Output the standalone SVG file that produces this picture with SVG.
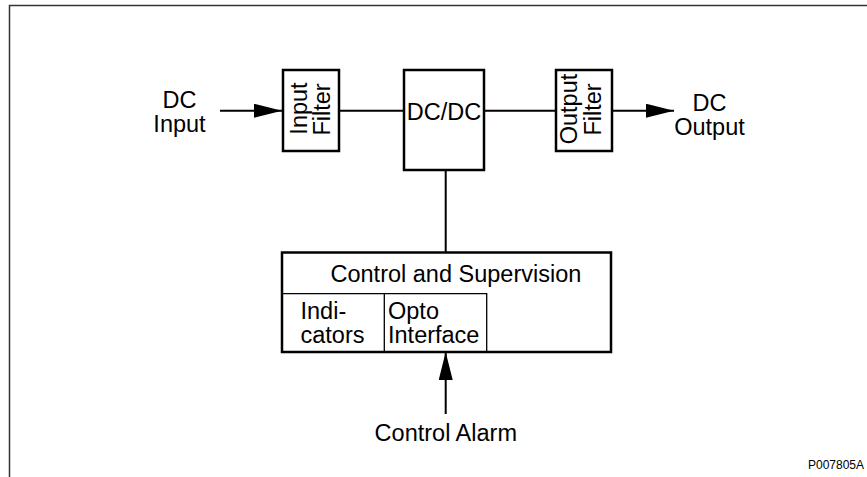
<svg xmlns="http://www.w3.org/2000/svg" width="867" height="477" viewBox="0 0 867 477">
<style>
  text { font-family: "Liberation Sans", Arial, sans-serif; font-size: 23.5px; fill: #000; }
  .box { fill: #fff; stroke: #000; stroke-width: 2.5; }
  .thin { fill: none; stroke: #000; stroke-width: 1.3; }
  .conn { fill: none; stroke: #000; stroke-width: 2; }
  .mid { text-anchor: middle; }
</style>
<defs>
  <marker id="arr" markerUnits="userSpaceOnUse" markerWidth="28" markerHeight="14" refX="28" refY="7" orient="auto">
    <path d="M0,0 L28,7 L0,14 z" fill="#000"/>
  </marker>
</defs>
<rect x="0" y="0" width="867" height="477" fill="#fff"/>
<!-- frame -->
<path d="M9.5,477 V5.5 H867" fill="none" stroke="#333" stroke-width="1.5"/>

<g id="connectors">
  <line class="conn" x1="220" y1="110.7" x2="282" y2="110.7" marker-end="url(#arr)"/>
  <line class="conn" x1="339" y1="110.7" x2="404" y2="110.7"/>
  <line class="conn" x1="484" y1="110.7" x2="556" y2="110.7"/>
  <line class="conn" x1="612" y1="110.7" x2="674" y2="110.7" marker-end="url(#arr)"/>
  <line class="conn" x1="445.7" y1="170" x2="445.7" y2="252"/>
  <line class="conn" x1="445.7" y1="414" x2="445.7" y2="352" marker-end="url(#arr)"/>
</g>

<g id="dc-input">
  <text class="mid" x="179.5" y="108">DC</text>
  <text class="mid" x="179.5" y="132">Input</text>
</g>

<g id="input-filter">
  <rect class="box" x="283" y="70" width="56" height="81"/>
  <text class="mid" transform="translate(307,108.5) rotate(-90)">Input</text>
  <text class="mid" transform="translate(330,109.5) rotate(-90)">Filter</text>
</g>

<g id="dcdc">
  <rect class="box" x="404" y="70" width="80" height="100"/>
  <text class="mid" x="444" y="119.5">DC/DC</text>
</g>

<g id="output-filter">
  <rect class="box" x="556" y="70" width="56" height="81"/>
  <text class="mid" transform="translate(577,109) rotate(-90)">Output</text>
  <text class="mid" transform="translate(600.5,109.5) rotate(-90)">Filter</text>
</g>

<g id="dc-output">
  <text class="mid" x="709.5" y="111">DC</text>
  <text class="mid" x="709.5" y="134.5">Output</text>
</g>

<g id="control-supervision">
  <rect class="box" x="282" y="252.5" width="329" height="99.5" stroke-width="2.2"/>
  <path class="thin" d="M282,293.7 H486.7 V352 M384.3,293.7 V352"/>
  <text x="330.5" y="282">Control and Supervision</text>
  <text x="300.5" y="319">Indi-</text>
  <text x="300.5" y="342.7">cators</text>
  <text x="388" y="319">Opto</text>
  <text x="388" y="342.7">Interface</text>
</g>

<g id="control-alarm">
  <text class="mid" x="445.8" y="441">Control Alarm</text>
</g>

<text x="808" y="469.3" style="font-size:12px">P007805A</text>
</svg>
